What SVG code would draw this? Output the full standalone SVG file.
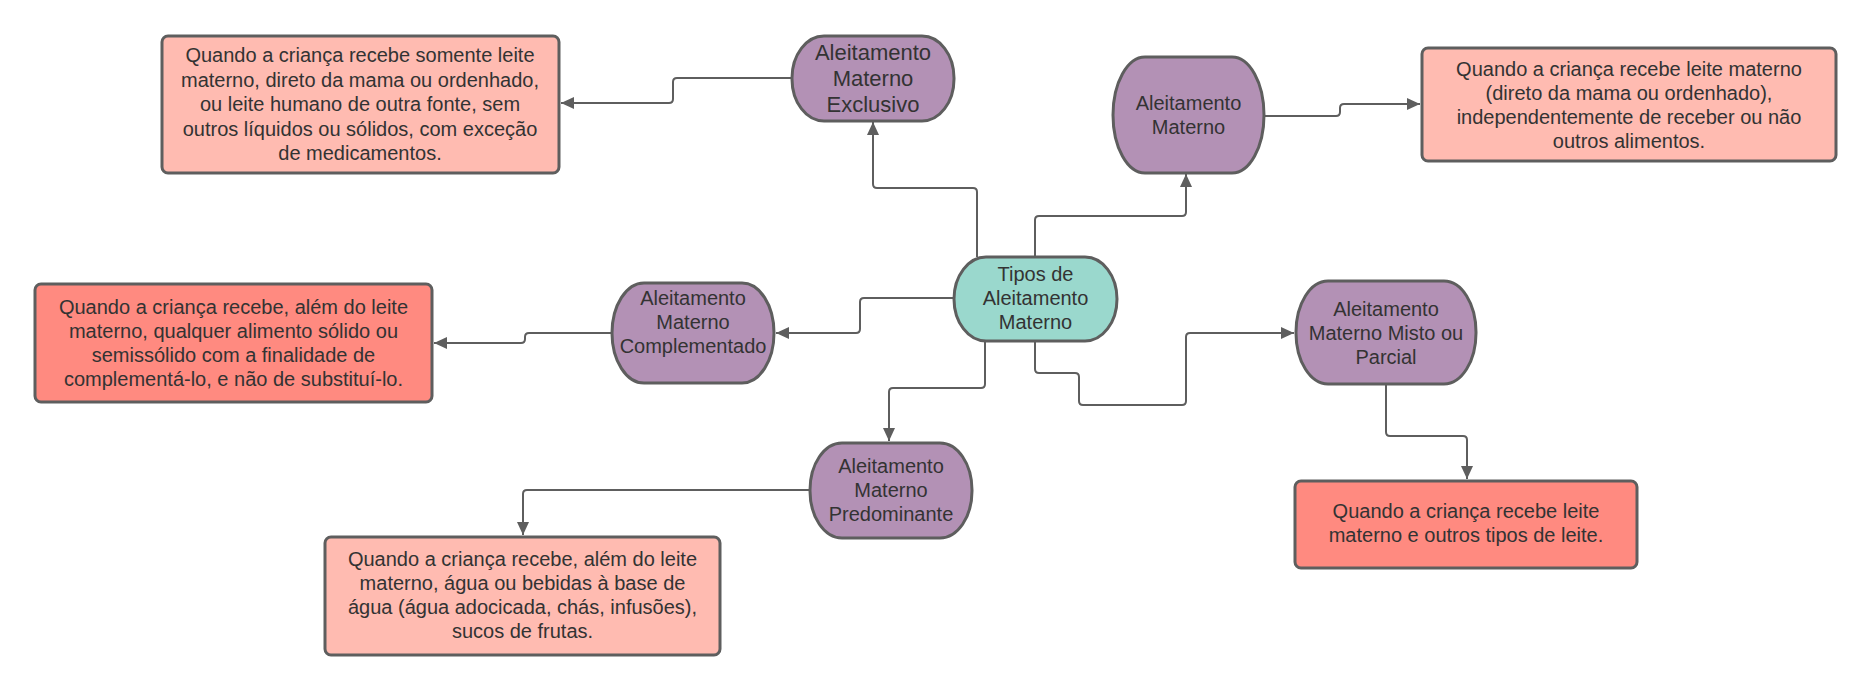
<svg xmlns="http://www.w3.org/2000/svg" width="1873" height="691" viewBox="0 0 1873 691">
<style>
.bg{fill:#ffffff}
.node{stroke:#5e5e5e;stroke-width:3}
.purple{fill:#b391b5}
.teal{fill:#9ad8cd}
.pink{fill:#ffbbb1}
.salmon{fill:#ff8a80}
.t{font-family:"Liberation Sans",Arial,sans-serif;font-size:20px;fill:#333333;text-anchor:middle}
.t22{font-size:22px}
.conn path{fill:none;stroke:#5e5e5e;stroke-width:2;marker-end:url(#arr)}
</style>
<defs>
<marker id="arr" markerUnits="userSpaceOnUse" markerWidth="14" markerHeight="12" refX="13" refY="6" orient="auto">
<path d="M0,0 L13,6 L0,12 z" fill="#5e5e5e"/>
</marker>
</defs>
<rect class="bg" x="0" y="0" width="1873" height="691"/>
<g id="connectors" class="conn">
<path d="M792,78 H677 Q673,78 673,82 V99 Q673,103 669,103 H561"/>
<path d="M977,257 V192 Q977,188 973,188 H877 Q873,188 873,184 V122"/>
<path d="M1035,257 V220 Q1035,216 1039,216 H1182 Q1186,216 1186,212 V174"/>
<path d="M954,298 H864 Q860,298 860,302 V329 Q860,333 856,333 H776"/>
<path d="M612,333 H529 Q525,333 525,337 V339 Q525,343 521,343 H434"/>
<path d="M985,341 V384 Q985,388 981,388 H893 Q889,388 889,392 V441"/>
<path d="M1035,341 V369 Q1035,373 1039,373 H1075 Q1079,373 1079,377 V401 Q1079,405 1083,405 H1182 Q1186,405 1186,401 V337 Q1186,333 1190,333 H1294"/>
<path d="M1386,384 V432 Q1386,436 1390,436 H1463 Q1467,436 1467,440 V479"/>
<path d="M1264,116 H1336 Q1340,116 1340,112 V108 Q1340,104 1344,104 H1420"/>
<path d="M810,490 H527 Q523,490 523,494 V535"/>
</g>
<g id="desc-exclusivo">
<rect class="node pink" x="162" y="36" width="397" height="137" rx="6"/>
<text class="t" x="360" y="62">Quando a criança recebe somente leite</text>
<text class="t" x="360" y="86.5">materno, direto da mama ou ordenhado,</text>
<text class="t" x="360" y="111">ou leite humano de outra fonte, sem</text>
<text class="t" x="360" y="135.5">outros líquidos ou sólidos, com exceção</text>
<text class="t" x="360" y="160">de medicamentos.</text>
</g>
<g id="node-exclusivo">
<rect class="node purple" x="792" y="36" width="162" height="85" rx="32" ry="42"/>
<text class="t t22" x="873" y="60">Aleitamento</text>
<text class="t t22" x="873" y="86">Materno</text>
<text class="t t22" x="873" y="112">Exclusivo</text>
</g>
<g id="node-materno">
<rect class="node purple" x="1113" y="57" width="151" height="116" rx="32" ry="58"/>
<text class="t" x="1188.5" y="110">Aleitamento</text>
<text class="t" x="1188.5" y="134">Materno</text>
</g>
<g id="desc-materno">
<rect class="node pink" x="1422" y="48" width="414" height="113" rx="6"/>
<text class="t" x="1629" y="76">Quando a criança recebe leite materno</text>
<text class="t" x="1629" y="100">(direto da mama ou ordenhado),</text>
<text class="t" x="1629" y="124">independentemente de receber ou não</text>
<text class="t" x="1629" y="148">outros alimentos.</text>
</g>
<g id="node-tipos">
<rect class="node teal" x="954" y="257" width="163" height="84" rx="32" ry="42"/>
<text class="t" x="1035.5" y="281">Tipos de</text>
<text class="t" x="1035.5" y="305">Aleitamento</text>
<text class="t" x="1035.5" y="329">Materno</text>
</g>
<g id="node-complementado">
<rect class="node purple" x="612" y="283" width="162" height="100" rx="32" ry="50"/>
<text class="t" x="693" y="305">Aleitamento</text>
<text class="t" x="693" y="329">Materno</text>
<text class="t" x="693" y="353">Complementado</text>
</g>
<g id="desc-complementado">
<rect class="node salmon" x="35" y="284" width="397" height="118" rx="6"/>
<text class="t" x="233.5" y="314">Quando a criança recebe, além do leite</text>
<text class="t" x="233.5" y="338">materno, qualquer alimento sólido ou</text>
<text class="t" x="233.5" y="362">semissólido com a finalidade de</text>
<text class="t" x="233.5" y="386">complementá-lo, e não de substituí-lo.</text>
</g>
<g id="node-misto">
<rect class="node purple" x="1296" y="281" width="180" height="103" rx="32" ry="51"/>
<text class="t" x="1386" y="315.5">Aleitamento</text>
<text class="t" x="1386" y="339.5">Materno Misto ou</text>
<text class="t" x="1386" y="363.5">Parcial</text>
</g>
<g id="desc-misto">
<rect class="node salmon" x="1295" y="481" width="342" height="87" rx="6"/>
<text class="t" x="1466" y="518">Quando a criança recebe leite</text>
<text class="t" x="1466" y="542">materno e outros tipos de leite.</text>
</g>
<g id="node-predominante">
<rect class="node purple" x="810" y="443" width="162" height="95" rx="32" ry="47"/>
<text class="t" x="891" y="473">Aleitamento</text>
<text class="t" x="891" y="497">Materno</text>
<text class="t" x="891" y="521">Predominante</text>
</g>
<g id="desc-predominante">
<rect class="node pink" x="325" y="537" width="395" height="118" rx="6"/>
<text class="t" x="522.5" y="566">Quando a criança recebe, além do leite</text>
<text class="t" x="522.5" y="590">materno, água ou bebidas à base de</text>
<text class="t" x="522.5" y="614">água (água adocicada, chás, infusões),</text>
<text class="t" x="522.5" y="638">sucos de frutas.</text>
</g>
</svg>
